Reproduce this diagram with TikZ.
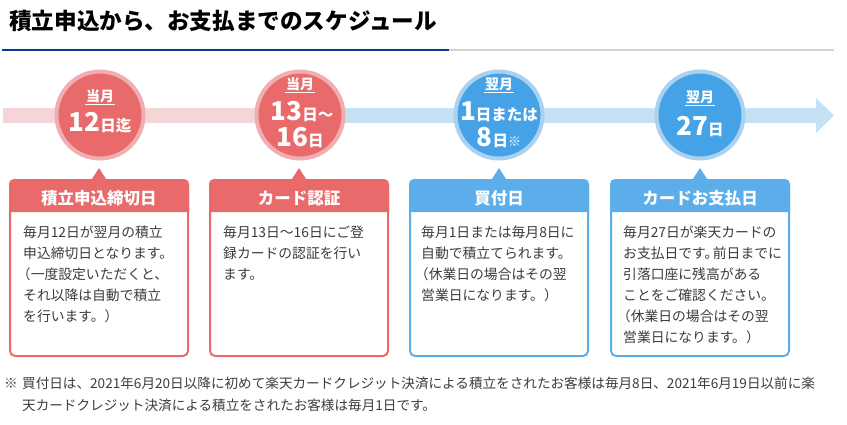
\documentclass[tikz,border=0pt]{standalone}
\usepackage{fontspec}
\setmainfont{Noto Sans CJK JP}
\definecolor{cRed}{HTML}{E96A6A}
\definecolor{cRedRing}{HTML}{F0AEB0}
\definecolor{cPinkBand}{HTML}{F4D6D9}
\definecolor{cBlue}{HTML}{45A2E6}
\definecolor{cBlueRing}{HTML}{A9D2F1}
\definecolor{cBlueBand}{HTML}{C7E1F4}
\definecolor{cBoxBlue}{HTML}{5BAEEA}
\definecolor{cNavy}{HTML}{0A3A96}
\definecolor{cGrayLine}{HTML}{D3D3D3}
\definecolor{cText}{HTML}{3C3C3C}
\newcommand\myNum[1]{{\fontsize{26}{26}\selectfont #1}}
\newcommand\myUnit[1]{{\fontsize{15.5}{16}\selectfont #1}}
\newcommand\myParen{\kern-0.45em（}
\tikzset{
  dot/.style={circle, minimum size=87pt, inner sep=0pt, line width=4pt},
  redDot/.style={dot, fill=cRed, draw=cRedRing},
  blueDot/.style={dot, fill=cBlue, draw=cBlueRing},
  month/.style={inner sep=0pt, text=white, font=\fontsize{14}{14}\selectfont\bfseries},
  dayTxt/.style={inner sep=0pt, text=white, font=\bfseries},
  card/.style={rectangle, rounded corners=5pt, minimum width=178pt, minimum height=176pt, line width=2pt, fill=white, inner sep=0pt},
  head/.style={inner sep=0pt, text=white, font=\fontsize{16.5}{17}\selectfont\bfseries},
  body/.style={anchor=north west, inner sep=0pt, align=left, text=cText, font=\fontsize{13.8}{21}\selectfont},
  note/.style={anchor=west, inner sep=0pt, text=cText, font=\fontsize{13.6}{14}\selectfont},
}
\begin{document}
\begin{tikzpicture}[x=1pt,y=-1pt]
\useasboundingbox (0,0) rectangle (847,424);

% title
\node[anchor=west, inner sep=0pt, font=\fontsize{22.6}{23}\selectfont\bfseries] (title) at (9,21) {積立申込から、お支払までのスケジュール};
\coordinate (l0) at (2,50);
\coordinate (l1) at (449,50);
\coordinate (l2) at (834,50);
\draw[cNavy, line width=2.2pt] (l0) -- (l1);
\draw[cGrayLine, line width=2pt] (l1) -- (l2);

% timeline band
\fill[cPinkBand] (3,108) rectangle (345,123);
\fill[cBlueBand] (345,108) rectangle (816,123);
\fill[cBlueBand] (816,98) -- (834,115.5) -- (816,133) -- cycle;

% circles
\node[redDot] (c1) at (100,115) {};
\node[redDot] (c2) at (300,115) {};
\node[blueDot] (c3) at (499,115) {};
\node[blueDot] (c4) at (700,115) {};

% circle 1
\node[month] (m1) at (100,96) {当月};
\node[dayTxt] (d1) at (100,123) {\myNum{12}\myUnit{日迄}};
% circle 2
\node[month] (m2) at (300,84) {当月};
\node[dayTxt] (d2a) at (302,112) {\myNum{13}\myUnit{日～}};
\node[dayTxt] (d2b) at (300,138) {\myNum{16}\myUnit{日}};
% circle 3
\node[month] (m3) at (499,84) {翌月};
\node[dayTxt] (d3a) at (499,112) {\myNum{1}\myUnit{日または}};
\node[dayTxt] (d3b) at (499,138) {\myNum{8}\myUnit{日}{\fontsize{13}{13}\selectfont\mdseries ※}};
% circle 4
\node[month] (m4) at (700,97) {翌月};
\node[dayTxt] (d4) at (700,127) {\myNum{27}\myUnit{日}};

\foreach \m in {m1,m2,m3,m4}{
  \draw[white, line width=1pt] ([yshift=-3.5pt,xshift=-1pt]\m.base west) -- ([yshift=-3.5pt,xshift=1pt]\m.base east);
}

% cards
\foreach \i/\cx/\col in {1/99/cRed, 2/299/cRed, 3/499/cBoxBlue, 4/700/cBoxBlue}{
  \fill[\col] (\cx-9,182) -- (\cx,168) -- (\cx+9,182) -- cycle;
  \node[card, draw=\col] (b\i) at (\cx,268) {};
  \fill[\col] ([yshift=-33pt]b\i.north west) [rounded corners=5pt] -- (b\i.north west) -- (b\i.north east) [sharp corners] -- ([yshift=-33pt]b\i.north east) -- cycle;
}

\node[head] (h1) at (99,198) {積立申込締切日};
\node[head] (h2) at (299,198) {カード認証};
\node[head] (h3) at (499,198) {買付日};
\node[head] (h4) at (700,198) {カードお支払日};

\node[body] (t1) at (23,226) {毎月12日が翌月の積立\\申込締切日となります。\\\myParen 一度設定いただくと、\\それ以降は自動で積立\\を行います。）};
\node[body] (t2) at (223,226) {毎月13日～16日にご登\\録カードの認証を行い\\ます。};
\node[body] (t3) at (421,226) {毎月1日または毎月8日に\\自動で積立てられます。\\\myParen 休業日の場合はその翌\\営業日になります。）};
\node[body] (t4) at (623,226) {毎月27日が楽天カードの\\お支払日です。\kern-0.4em 前日までに\\引落口座に残高がある\\ことをご確認ください。\\\myParen 休業日の場合はその翌\\営業日になります。）};

% footnote
\node[note] (n0) at (4,383) {※};
\node[note] (n1) at (22,383) {買付日は、2021年6月20日以降に初めて楽天カードクレジット決済による積立をされたお客様は毎月8日、2021年6月19日以前に楽};
\node[note] (n2) at (22,405) {天カードクレジット決済による積立をされたお客様は毎月1日です。};
\end{tikzpicture}
\end{document}
